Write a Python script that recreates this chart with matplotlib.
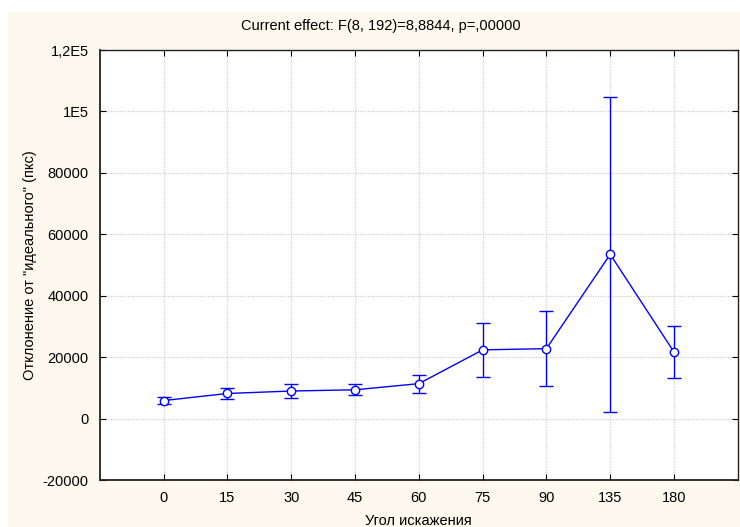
import numpy as np
import matplotlib
matplotlib.use('Agg')
import matplotlib.pyplot as plt
from matplotlib.patches import Rectangle

# angle categories and mean deviation with error half-widths
angles = ['0', '15', '30', '45', '60', '75', '90', '135', '180']
means = [5900, 8200, 9000, 9400, 11400, 22400, 22800, 53500, 21700]
errs = [1100, 1900, 2300, 1800, 2900, 8700, 12200, 51200, 8600]

y_ticks = [-20000, 0, 20000, 40000, 60000, 80000, 100000, 120000]
y_labels = ['-20000', '0', '20000', '40000', '60000', '80000', '1E5', '1,2E5']

plt.rcParams['font.family'] = ['Liberation Sans', 'DejaVu Sans']

fig = plt.figure(figsize=[7.4, 5.27], dpi=100, facecolor='#fdf9ee')
# white strip of the screenshot around the window
fig.patches.append(Rectangle((0, 0.978), 1, 0.022, transform=fig.transFigure,
                             facecolor='white', edgecolor='none', zorder=-1))
fig.patches.append(Rectangle((0, 0), 0.011, 1, transform=fig.transFigure,
                             facecolor='white', edgecolor='none', zorder=-1))

ax = fig.add_axes([0.135, 0.089, 0.862, 0.816])
ax.set_facecolor('white')

x = np.arange(len(angles))
ax.errorbar(x, means, yerr=errs, color='#0000ff', lw=1, elinewidth=1,
            capsize=5, capthick=1, marker='o', ms=6, mfc='white',
            mec='#0000ff', mew=1, zorder=3)

ax.set_xlim(-1, 9)
ax.set_ylim(-20000, 120000)
ax.set_xticks(x)
ax.set_xticklabels(angles)
ax.set_yticks(y_ticks)
ax.set_yticklabels(y_labels)

ax.grid(True, color='#d0d0d0', linestyle=(0, (1, 1)), lw=0.9)
ax.tick_params(direction='in', length=4, top=True, right=True, labelsize=10.5,
               pad=8, colors='black')
for s in ax.spines.values():
    s.set_color('#222222')
    s.set_linewidth(1)
ax.spines['left'].set_linewidth(1.3)
ax.spines['bottom'].set_linewidth(1.3)

ax.set_xlabel('Угол искажения', fontsize=10.5, labelpad=6)
ax.set_ylabel('Отклонение от "идеального" (пкс)', fontsize=10.5, labelpad=4)
fig.text(0.515, 0.950, 'Current effect: F(8, 192)=8,8844, p=,00000',
         fontsize=10.5, ha='center', va='center')

plt.savefig('out.png', dpi=100, facecolor=fig.get_facecolor())
plt.close()
